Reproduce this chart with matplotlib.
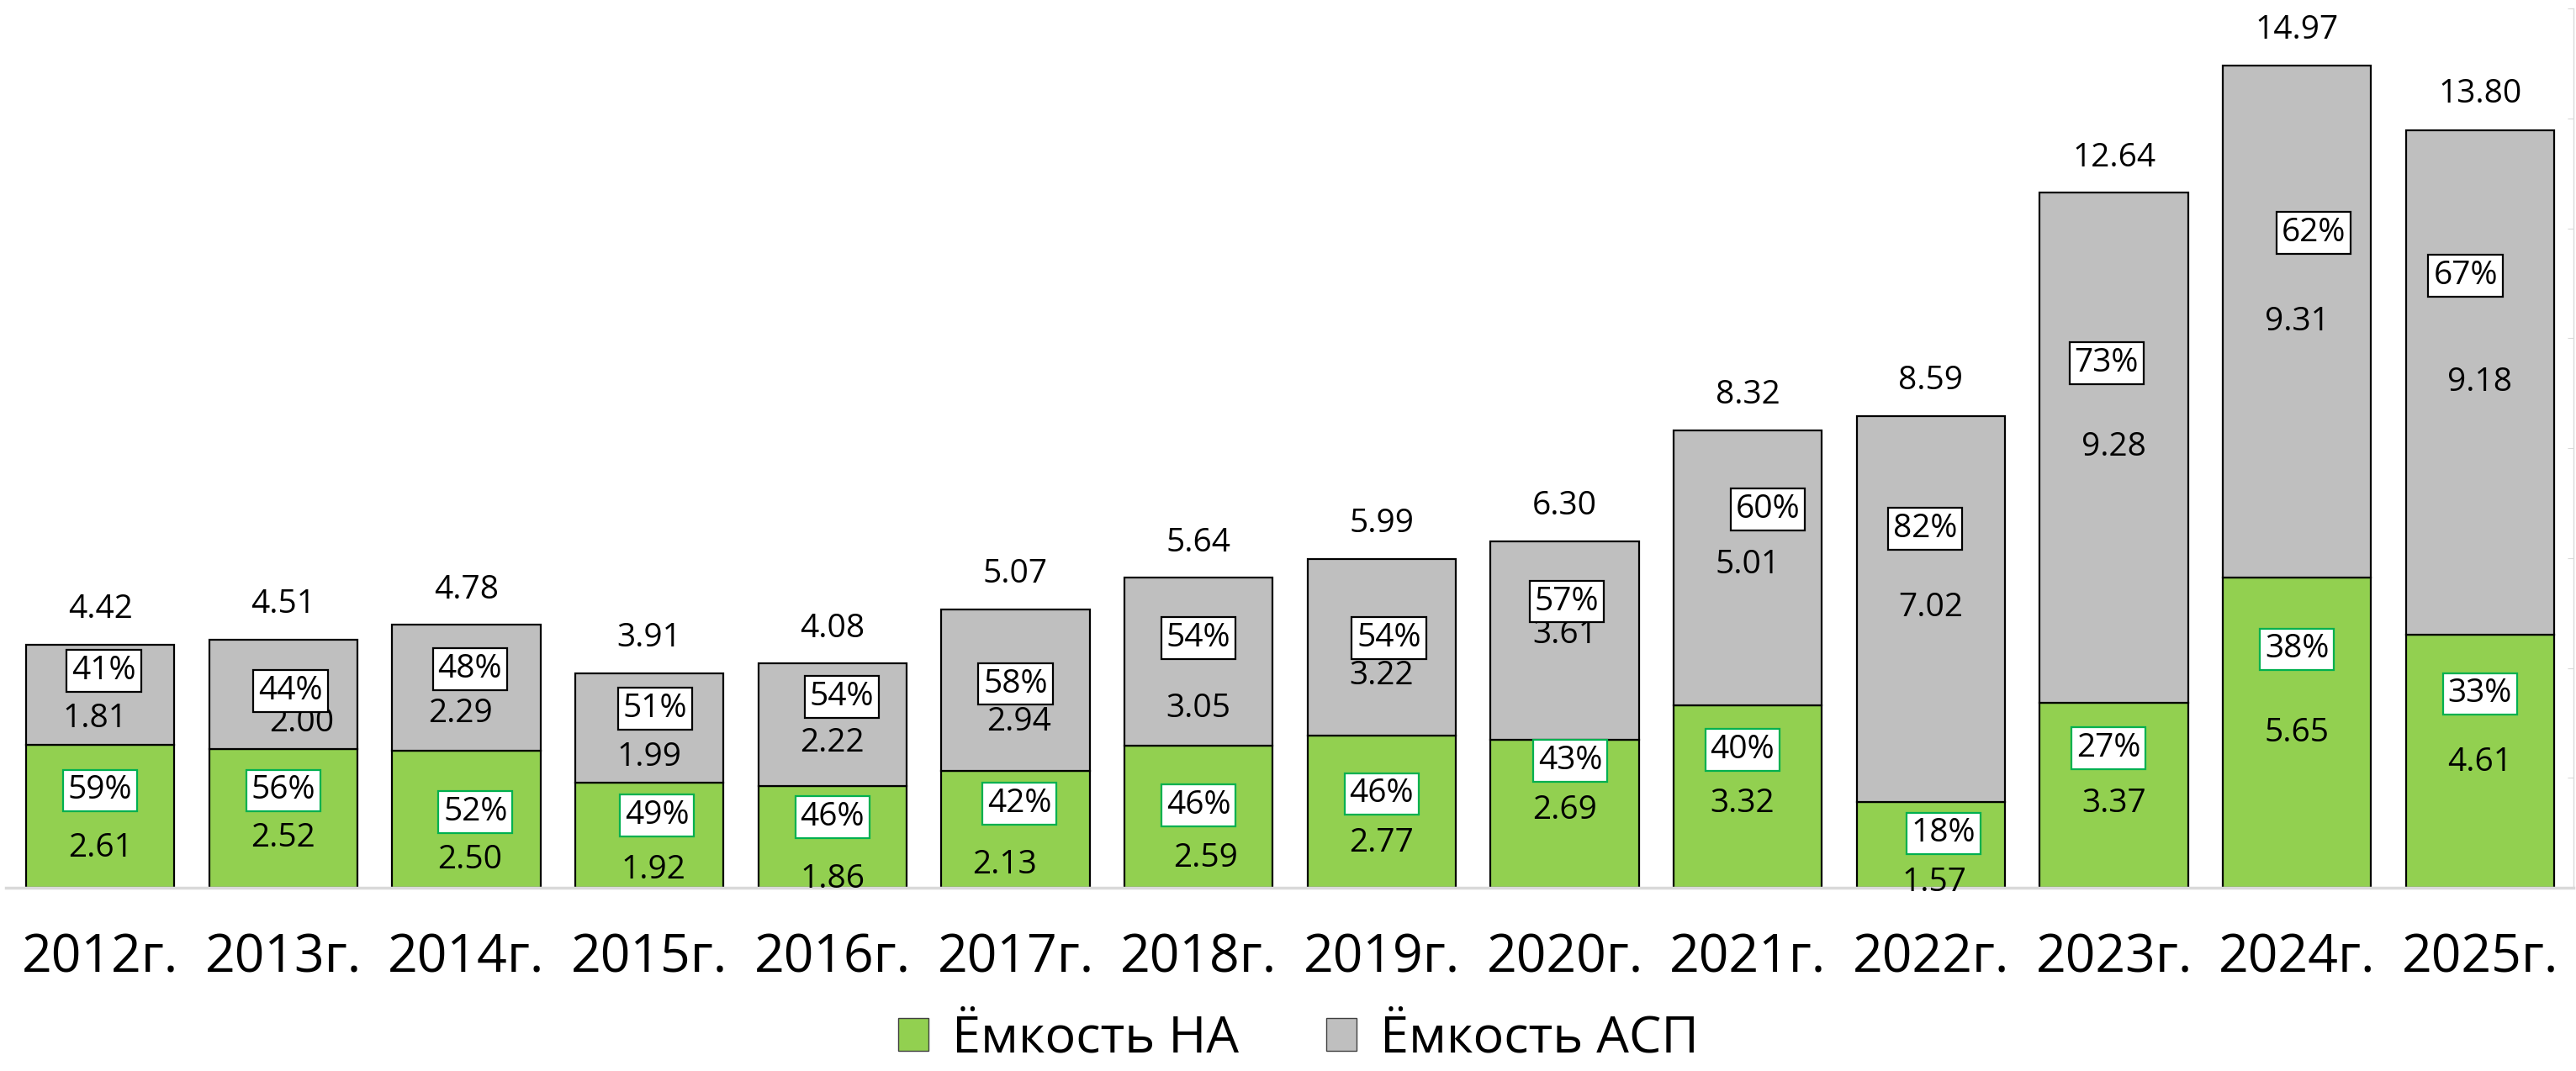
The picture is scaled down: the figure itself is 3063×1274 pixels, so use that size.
import numpy as np
import matplotlib
matplotlib.use("Agg")
import matplotlib.pyplot as plt
from matplotlib.patches import Patch

plt.rcParams['font.family'] = ['Open Sans', 'DejaVu Sans']

# ---- data ----
years = ['2012г.', '2013г.', '2014г.', '2015г.', '2016г.', '2017г.', '2018г.',
         '2019г.', '2020г.', '2021г.', '2022г.', '2023г.', '2024г.', '2025г.']
na = [2.61, 2.52, 2.50, 1.92, 1.86, 2.13, 2.59, 2.77, 2.69, 3.32, 1.57, 3.37, 5.65, 4.61]
asp = [1.81, 2.00, 2.29, 1.99, 2.22, 2.94, 3.05, 3.22, 3.61, 5.01, 7.02, 9.28, 9.31, 9.18]
totals = [4.42, 4.51, 4.78, 3.91, 4.08, 5.07, 5.64, 5.99, 6.30, 8.32, 8.59, 12.64, 14.97, 13.80]

# ---- label placement (data units, hand-placed like in the original) ----
na_pct_y = [1.77, 1.77, 1.38, 1.32, 1.29, 1.53, 1.50, 1.71, 2.31, 2.51, 0.99, 2.54, 4.34, 3.53]
na_val_y = [0.72, 0.90, 0.51, 0.33, 0.15, 0.42, 0.54, 0.81, 1.41, 1.53, 0.09, 1.53, 2.81, 2.28]
asp_pct_y = [3.95, 3.58, 3.98, 3.26, 3.47, 3.71, 4.55, 4.55, 5.21, 6.89, 6.53, 9.55, 11.92, 11.14]
asp_val_y = [3.08, 3.00, 3.17, 2.37, 2.63, 3.02, 3.26, 3.86, 4.61, 5.87, 5.09, 8.02, 10.30, 9.19]
na_pct_dx = [0, 0, 0.05, 0.04, 0, 0.02, 0, 0, 0.03, -0.03, 0.07, -0.03, 0, 0]
asp_pct_dx = [0.02, 0.04, 0.02, 0.03, 0.05, 0, 0, 0.04, 0.01, 0.11, -0.03, -0.04, 0.09, -0.08]
na_val_dx = [0, 0, 0.02, 0.02, 0, -0.06, 0.04, 0, 0, -0.03, 0.02, 0, 0, 0]
asp_val_dx = [-0.03, 0.10, -0.03, 0, 0, 0.02, 0, 0, 0, 0, 0, 0, 0, 0]

green = '#92D050'
grey = '#BFBFBF'

fig = plt.figure(figsize=(30.63, 12.74), dpi=100)
ax = fig.add_axes([0.0023, 0.171, 0.9967, 0.821])

x = np.arange(len(years))
ax.bar(x, na, width=0.81, color=green, edgecolor='black', linewidth=1.6, zorder=2)
ax.bar(x, asp, bottom=na, width=0.81, color=grey, edgecolor='black', linewidth=1.6, zorder=2)

fs = 28
for i in range(len(years)):
    p_na = int(round(na[i] / totals[i] * 100))
    p_asp = 100 - p_na
    ax.text(x[i] + na_val_dx[i], na_val_y[i], f'{na[i]:.2f}', ha='center', va='center',
            fontsize=fs, zorder=5)
    ax.text(x[i] + asp_val_dx[i], asp_val_y[i], f'{asp[i]:.2f}', ha='center', va='center',
            fontsize=fs, zorder=5)
    ax.text(x[i] + na_pct_dx[i], na_pct_y[i], f'{p_na}%', ha='center', va='center',
            fontsize=fs, zorder=6,
            bbox=dict(boxstyle='square,pad=0.15', fc='white', ec='#00B050', lw=1.6))
    ax.text(x[i] + asp_pct_dx[i], asp_pct_y[i], f'{p_asp}%', ha='center', va='center',
            fontsize=fs, zorder=6,
            bbox=dict(boxstyle='square,pad=0.15', fc='white', ec='black', lw=1.6))
    ax.text(x[i], totals[i] + 0.64, f'{totals[i]:.2f}', ha='center', va='center',
            fontsize=fs, zorder=5)

ax.set_xlim(-0.515, 13.51)
ax.set_ylim(0, 16)
ax.set_xticks(x)
ax.set_xticklabels(years, fontsize=45)
ax.tick_params(axis='x', length=0, pad=38)
ax.set_yticks(np.arange(0, 17, 2))
ax.tick_params(axis='y', left=False, labelleft=False, right=True, direction='in',
               length=5, color='#D9D9D9')

for s in ['top', 'left']:
    ax.spines[s].set_visible(False)
ax.spines['bottom'].set_color('#D9D9D9')
ax.spines['bottom'].set_linewidth(2.5)
ax.spines['bottom'].set_zorder(3)
ax.spines['right'].set_color('#D9D9D9')
ax.spines['right'].set_linewidth(1)

handles = [Patch(facecolor=green, edgecolor='#404040', lw=1),
           Patch(facecolor=grey, edgecolor='#404040', lw=1)]
fig.legend(handles, ['Ёмкость НА', 'Ёмкость АСП'], loc='center',
           bbox_to_anchor=(0.504, 0.03), ncol=2, frameon=False, fontsize=44,
           handlelength=0.6, handleheight=0.6, handletextpad=0.45, columnspacing=1.7,
           borderpad=0.1)

fig.savefig('out.png', dpi=100)
